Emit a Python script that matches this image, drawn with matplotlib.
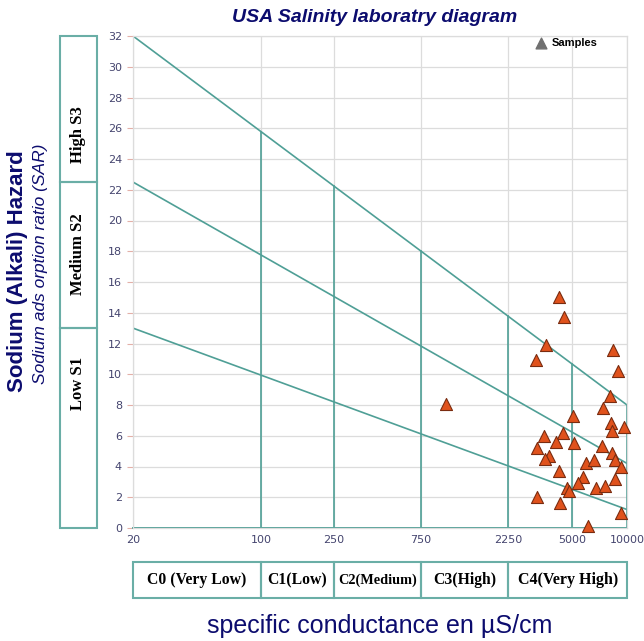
import numpy as np
import matplotlib
matplotlib.use("Agg")
import matplotlib.pyplot as plt
from matplotlib.patches import Rectangle

# ---------------- data ----------------
ec_ticks = [20, 100, 250, 750, 2250, 5000, 10000]
sar_ticks = list(range(0, 33, 2))

# hazard boundary lines (SAR at EC = 20 and EC = 10000)
line_ec = [20, 10000]
upper_line = [32, 8]      # S3 / S2 boundary (top of diagram)
middle_line = [22.5, 4.2] # S2 / S1 boundary
lower_line = [13, 1.2]    # S1 lower boundary

# salinity classes (bottom boxes)
salinity_labels = ["C0 (Very Low)", "C1(Low)", "C2(Medium)", "C3(High)", "C4(Very High)"]
salinity_edges = [20, 100, 250, 750, 2250, 10000]

# sodium classes (left boxes)
sodium_labels = ["Low S1", "Medium S2", "High S3"]
sodium_edges = [0, 13, 22.5, 32]

# samples
sample_ec = [4270, 4548, 3598, 3186, 8396, 8940, 8086, 7430, 5054, 8186,
             9642, 8320, 4474, 3536, 4096, 5138, 7338, 3238, 3766, 3568,
             8258, 8610, 9284, 5976, 6584, 5776, 4256, 8576, 6778, 7590,
             5384, 4688, 4826, 3226, 4308, 9284, 6152, 1022]
sample_sar = [15.0, 13.7, 11.9, 10.9, 11.6, 10.2, 8.6, 7.8, 7.3, 6.8,
              6.6, 6.3, 6.2, 6.0, 5.6, 5.5, 5.35, 5.2, 4.7, 4.5,
              4.9, 4.4, 3.95, 4.25, 4.4, 3.3, 3.7, 3.2, 2.6, 2.7,
              2.9, 2.6, 2.4, 2.0, 1.6, 1.0, 0.13, 8.07]

# ---------------- style ----------------
teal = "#4f9f96"
box_teal = "#6aaea6"
navy = "#0c0c6e"
tick_col = "#44446e"
grid_col = "#dcdcdc"

W, H = 644, 641
fig = plt.figure(figsize=(W / 100, H / 100), dpi=100)

def fx(px):
    return px / W

def fy(py):
    return 1 - py / H

L, R, T, B = 133, 627, 36, 528
ax = fig.add_axes([fx(L), fy(B), fx(R - L), fy(T) - fy(B)])
ax.set_xscale("log")
ax.set_xlim(20, 10000)
ax.set_ylim(0, 32)

# grid
for v in sar_ticks:
    ax.axhline(v, color=grid_col, lw=0.9, zorder=0)
for v in ec_ticks:
    ax.axvline(v, color=grid_col, lw=0.9, zorder=0)

for s in ax.spines.values():
    s.set_color(grid_col)
    s.set_linewidth(0.9)

ax.set_xticks(ec_ticks)
ax.set_xticklabels([str(v) for v in ec_ticks])
ax.xaxis.set_minor_locator(matplotlib.ticker.NullLocator())
ax.set_yticks(sar_ticks)
ax.tick_params(axis="x", length=0, labelsize=8, colors=tick_col, pad=5)
ax.tick_params(axis="y", length=4, color="#e3b0a8", labelsize=8, labelcolor=tick_col, pad=4)

# hazard lines
for ln in (upper_line, middle_line, lower_line):
    ax.plot(line_ec, ln, color=teal, lw=1.2, zorder=2)

# vertical class lines up to the upper boundary
log_ends = np.log10(line_ec)
for v in ec_ticks:
    top = np.interp(np.log10(v), log_ends, upper_line)
    ax.plot([v, v], [0, top], color=teal, lw=1.2, zorder=2)
ax.plot(line_ec, [0, 0], color=teal, lw=1.4, zorder=2, clip_on=False)

# samples
ax.scatter(sample_ec, sample_sar, marker="^", s=75, facecolor="#e0521c",
           edgecolor="#7a2c10", linewidth=0.8, zorder=5, clip_on=False)

# legend
ax.scatter([], [], marker="^", s=60, color="#707070", label="Samples")
leg = ax.legend(loc="upper right", bbox_to_anchor=(0.95, 1.005), frameon=False,
                handletextpad=0.0, borderaxespad=0.0, markerscale=1.0,
                prop={"family": "Liberation Sans", "weight": "bold", "size": 8})

# title and labels
fig.text(fx(375), fy(18), "USA Salinity laboratry diagram", ha="center", va="center",
         color=navy, fontsize=14, fontweight="bold", style="italic",
         family="Liberation Sans")
fig.text(fx(18), fy(271), "Sodium (Alkali) Hazard", ha="center", va="center",
         rotation=90, color=navy, fontsize=16, fontweight="bold",
         family="Liberation Sans")
fig.text(fx(41), fy(264), "Sodium ads orption ratio (SAR)", ha="center", va="center",
         rotation=90, color=navy, fontsize=12.5, style="italic",
         family="Liberation Sans")
fig.text(fx(380), fy(626), "specific conductance en µS/cm", ha="center", va="center",
         color=navy, fontsize=18, family="Liberation Sans")

# left sodium boxes
sodium_text_y = [9.4, 17.8, 25.6]
axl = fig.add_axes([fx(60), fy(B), fx(37), fy(T) - fy(B)])
axl.set_ylim(0, 32)
axl.set_xlim(0, 1)
axl.axis("off")
for lab, lo, hi, ty in zip(sodium_labels, sodium_edges[:-1], sodium_edges[1:], sodium_text_y):
    axl.add_patch(Rectangle((0, lo), 1, hi - lo, fill=False, edgecolor=box_teal,
                            lw=1.5, clip_on=False))
    axl.text(0.5, ty, lab, rotation=90, ha="center", va="center",
             fontsize=12, fontweight="bold", family="Liberation Serif")

# bottom salinity boxes
salinity_sizes = [11.3, 11.3, 10.3, 11.3, 11.5]
axb = fig.add_axes([fx(L), fy(598), fx(R - L), fy(562) - fy(598)])
axb.set_xscale("log")
axb.set_xlim(20, 10000)
axb.set_ylim(0, 1)
axb.axis("off")
for lab, lo, hi, fs in zip(salinity_labels, salinity_edges[:-1], salinity_edges[1:], salinity_sizes):
    axb.add_patch(Rectangle((lo, 0), hi - lo, 1, fill=False, edgecolor=box_teal,
                            lw=1.5, clip_on=False))
    axb.text(np.sqrt(lo * hi), 0.5, lab, ha="center", va="center",
             fontsize=fs, fontweight="bold", family="Liberation Serif")

fig.savefig("out.png", dpi=100)
